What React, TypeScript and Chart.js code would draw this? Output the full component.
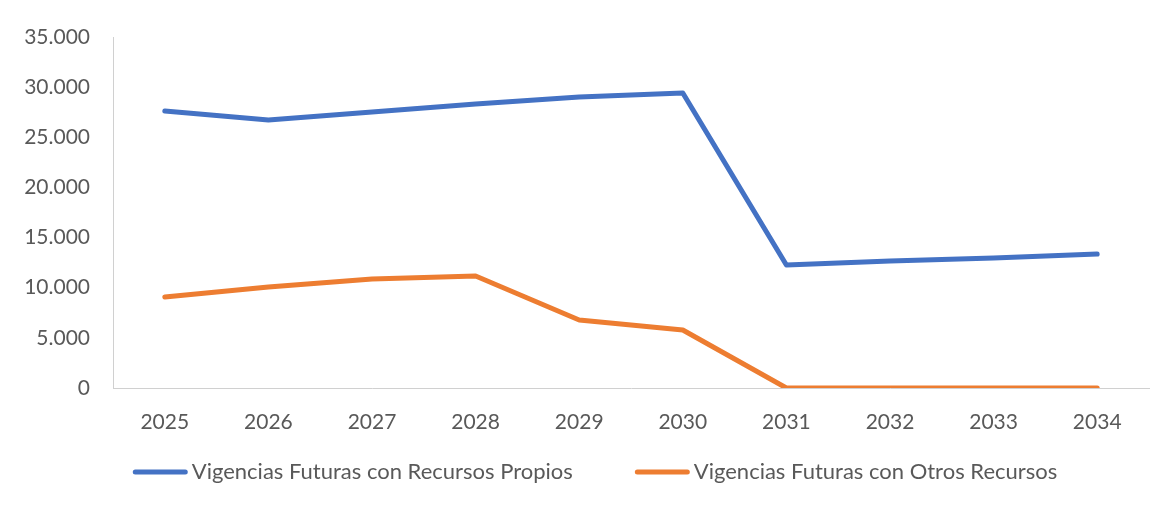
import React, { useEffect, useRef } from "react";
import { Chart, registerables } from "chart.js";

Chart.register(...registerables);

// Years on the horizontal axis
const years = ["2025", "2026", "2027", "2028", "2029", "2030", "2031", "2032", "2033", "2034"];

// Future commitments (millions) by funding source
const recursosPropios = [27620, 26720, 27520, 28320, 29010, 29410, 12260, 12660, 12960, 13360];
const otrosRecursos = [9070, 10070, 10870, 11170, 6780, 5780, 0, 0, 0, 0];

const seriesNames = [
  "Vigencias Futuras con Recursos Propios",
  "Vigencias Futuras con Otros Recursos",
];

// Value axis range
const yMin = 0;
const yMax = 35000;
const yStep = 5000;

const textColor = "#595959";
const axisColor = "#d0d0d0";
const fontFamily = "Lato, 'Open Sans', sans-serif";

const formatThousands = (v: number) =>
  String(Math.round(v)).replace(/\B(?=(\d{3})+(?!\d))/g, ".");

// Legend drawn as a row of line swatches centred under the plot
const lineLegend = {
  id: "lineLegend",
  afterDraw(chart: Chart) {
    const ctx = chart.ctx;
    const swatch = 55;
    const gap = 4;
    const itemGap = 62;
    const centerX = 587;
    const centerY = 464;
    ctx.save();
    ctx.font = `22px ${fontFamily}`;
    ctx.textBaseline = "middle";
    ctx.textAlign = "left";
    const items = chart.data.datasets.map((ds: any) => ({
      text: ds.label as string,
      color: ds.borderColor as string,
      width: ctx.measureText(ds.label).width,
    }));
    const total =
      items.reduce((acc, it) => acc + swatch + gap + it.width, 0) +
      itemGap * (items.length - 1);
    let x = centerX - total / 2;
    for (const it of items) {
      ctx.strokeStyle = it.color;
      ctx.lineWidth = 5;
      ctx.lineCap = "round";
      ctx.beginPath();
      ctx.moveTo(x + 2.5, centerY);
      ctx.lineTo(x + swatch - 2.5, centerY);
      ctx.stroke();
      ctx.fillStyle = textColor;
      ctx.fillText(it.text, x + swatch + gap, centerY);
      x += swatch + gap + it.width + itemGap;
    }
    ctx.restore();
  },
};

export default function App() {
  const canvasRef = useRef<HTMLCanvasElement | null>(null);

  useEffect(() => {
    if (!canvasRef.current) return;
    const chart = new Chart(canvasRef.current, {
      type: "line",
      data: {
        labels: years,
        datasets: [
          {
            label: seriesNames[0],
            data: recursosPropios,
            borderColor: "#4472C4",
            backgroundColor: "#4472C4",
            borderWidth: 5,
            pointRadius: 0,
            tension: 0,
            borderCapStyle: "round",
            borderJoinStyle: "round",
          },
          {
            label: seriesNames[1],
            data: otrosRecursos,
            borderColor: "#ED7D31",
            backgroundColor: "#ED7D31",
            borderWidth: 5,
            pointRadius: 0,
            tension: 0,
            borderCapStyle: "round",
            borderJoinStyle: "round",
          },
        ],
      },
      options: {
        animation: false,
        responsive: true,
        maintainAspectRatio: false,
        layout: { padding: { top: 29, right: 16, bottom: 53, left: 0 } },
        plugins: {
          tooltip: { enabled: false },
          legend: { display: false },
        },
        scales: {
          x: {
            offset: true,
            grid: { display: false, drawTicks: false },
            border: { display: true, color: axisColor, width: 1 },
            ticks: {
              color: textColor,
              font: { family: fontFamily, size: 21 },
              padding: 22,
              maxRotation: 0,
            },
            afterFit: (s: any) => {
              s.height = 64;
            },
          },
          y: {
            min: yMin,
            max: yMax,
            grid: { display: false, drawTicks: false },
            border: { display: true, color: axisColor, width: 1 },
            ticks: {
              stepSize: yStep,
              color: textColor,
              font: { family: fontFamily, size: 21 },
              padding: 23,
              callback: (v: any) => formatThousands(Number(v)),
            },
            afterFit: (s: any) => {
              // fixed axis width; the layout padding alone sets the plot top
              s.width = 105;
              s.paddingTop = 0;
              s.paddingBottom = 0;
            },
          },
        },
      },
      plugins: [lineLegend],
    });
    return () => chart.destroy();
  }, []);

  return (
    <div
      style={{
        marginLeft: -1,
        marginTop: -1,
        width: 1157,
        height: 497,
        borderLeft: "1px solid #d9d9d9",
        borderTop: "1px solid #d9d9d9",
        background: "#ffffff",
      }}
    >
      <div style={{ position: "relative", width: 1157, height: 497 }}>
        <canvas ref={canvasRef} />
      </div>
    </div>
  );
}
